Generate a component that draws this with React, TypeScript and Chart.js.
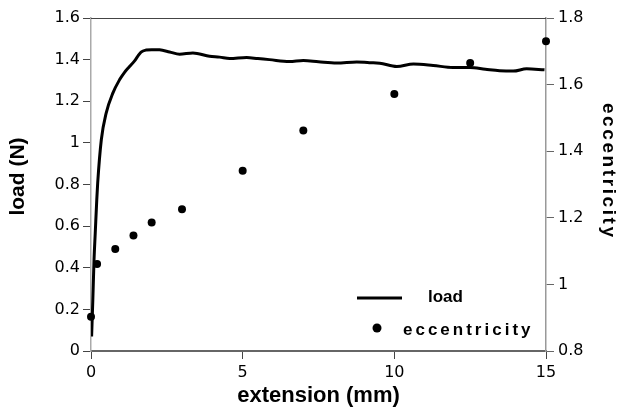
import React, { useEffect, useRef } from "react";
import { Chart, registerables } from "chart.js";

Chart.register(...registerables);

// ---- data ----
const loadX = [0.02, 0.06, 0.1, 0.14, 0.19, 0.22, 0.34, 0.5, 0.72, 0.94, 1.1, 1.27, 1.43, 1.55, 1.65, 1.82, 2.0, 2.26, 2.59, 2.92, 3.36, 3.91, 4.24, 4.57, 5.13, 5.5, 5.88, 6.54, 7.0, 7.5, 8.1, 8.76, 9.18, 9.52, 10.08, 10.63, 11.28, 11.94, 12.49, 13.0, 13.47, 13.92, 14.36, 14.95];
const loadY = [0.07, 0.245, 0.44, 0.567, 0.726, 0.806, 1.015, 1.143, 1.239, 1.303, 1.338, 1.367, 1.393, 1.418, 1.436, 1.446, 1.448, 1.447, 1.437, 1.426, 1.432, 1.416, 1.412, 1.405, 1.41, 1.405, 1.4, 1.391, 1.396, 1.39, 1.384, 1.389, 1.385, 1.383, 1.367, 1.379, 1.372, 1.362, 1.362, 1.354, 1.347, 1.345, 1.356, 1.351];

const eccX = [0, 0.2, 0.8, 1.4, 2, 3, 5, 7, 10, 12.5, 15];
const eccY = [0.903, 1.061, 1.106, 1.147, 1.186, 1.226, 1.341, 1.462, 1.572, 1.665, 1.73];

const xTickLabels = ["0", "5", "10", "15"];
const yTickLabels = ["0", "0.2", "0.4", "0.6", "0.8", "1", "1.2", "1.4", "1.6"];
const y2TickLabels = ["0.8", "1", "1.2", "1.4", "1.6", "1.8"];

const seriesNames = ["load", "eccentricity"];
const xTitle = "extension (mm)";
const yTitle = "load (N)";
const y2Title = "eccentricity";

const TICK_FONT = { family: "'DejaVu Sans', sans-serif", size: 16 };
const BOLD = "'Liberation Sans', Arial, sans-serif";

const overlay = {
  id: "overlay",
  afterDraw(chart: any) {
    const { ctx, chartArea } = chart;
    const { left, right, top, bottom } = chartArea;
    ctx.save();
    // top frame line
    ctx.strokeStyle = "#444";
    ctx.lineWidth = 1;
    ctx.beginPath();
    ctx.moveTo(left, top + 0.5);
    ctx.lineTo(right, top + 0.5);
    ctx.stroke();

    ctx.fillStyle = "#000";
    ctx.textBaseline = "middle";

    // left title
    ctx.save();
    ctx.font = `bold 21px ${BOLD}`;
    ctx.textAlign = "center";
    ctx.translate(18, 176.5);
    ctx.rotate(-Math.PI / 2);
    ctx.fillText(yTitle, 0, 0);
    ctx.restore();

    // right title (letter spaced)
    ctx.save();
    ctx.font = `bold 19px ${BOLD}`;
    (ctx as any).letterSpacing = "2.6px";
    ctx.textAlign = "left";
    const w = ctx.measureText(y2Title).width - 2.6;
    ctx.translate(right + 62, 170);
    ctx.rotate(Math.PI / 2);
    ctx.fillText(y2Title, -w / 2, 0);
    ctx.restore();

    // legend
    const ds = chart.data.datasets;
    ctx.strokeStyle = "#000";
    ctx.lineWidth = 3;
    ctx.beginPath();
    ctx.moveTo(right - 189, bottom - 53);
    ctx.lineTo(right - 144, bottom - 53);
    ctx.stroke();
    ctx.font = `bold 17px ${BOLD}`;
    ctx.textAlign = "left";
    ctx.fillText(ds[0].label, right - 118, bottom - 54);

    ctx.beginPath();
    ctx.arc(right - 169, bottom - 23, 4.5, 0, Math.PI * 2);
    ctx.fill();
    ctx.save();
    (ctx as any).letterSpacing = "3px";
    ctx.fillText(ds[1].label, right - 143, bottom - 21);
    ctx.restore();

    ctx.restore();
  },
};

export default function App() {
  const ref = useRef<HTMLCanvasElement>(null);

  useEffect(() => {
    if (!ref.current) return;
    const chart = new Chart(ref.current, {
      type: "scatter",
      data: {
        datasets: [
          {
            label: seriesNames[0],
            data: loadX.map((x, i) => ({ x, y: loadY[i] })),
            showLine: true,
            borderColor: "#000",
            borderWidth: 3,
            pointRadius: 0,
            cubicInterpolationMode: "monotone",
            yAxisID: "y",
            order: 2,
          },
          {
            label: seriesNames[1],
            data: eccX.map((x, i) => ({ x, y: eccY[i] })),
            showLine: false,
            backgroundColor: "#000",
            borderColor: "#000",
            pointRadius: 4,
            pointBorderWidth: 0,
            yAxisID: "y2",
            clip: false,
            order: 1,
          },
        ],
      } as any,
      options: {
        animation: false,
        responsive: false,
        events: [],
        layout: { padding: { top: 18, left: 0, right: 0, bottom: 0 } },
        plugins: { legend: { display: false }, tooltip: { enabled: false } },
        scales: {
          x: {
            type: "linear",
            min: 0,
            max: 15,
            ticks: {
              stepSize: 5,
              font: TICK_FONT,
              color: "#000",
              padding: 4,
              maxRotation: 0,
              callback: (_v: any, i: number) => xTickLabels[i],
            },
            grid: { drawOnChartArea: false, drawTicks: true, tickLength: 8, color: "#444" },
            border: { display: true, color: "#666", width: 2 },
            title: {
              display: true,
              text: xTitle,
              font: { family: BOLD, size: 22, weight: "bold" },
              color: "#000",
              padding: { top: 0, bottom: 0 },
            },
            afterFit: (s: any) => {
              s.height = 58;
            },
          },
          y: {
            type: "linear",
            position: "left",
            min: 0,
            max: 1.6,
            ticks: {
              stepSize: 0.2,
              font: TICK_FONT,
              color: "#000",
              padding: 3,
              callback: (_v: any, i: number) => yTickLabels[i],
            },
            grid: { drawOnChartArea: false, drawTicks: true, tickLength: 8, color: "#444" },
            border: { display: true, color: "#aaa", width: 1.5 },
            afterFit: (s: any) => {
              s.width = 91;
            },
          },
          y2: {
            type: "linear",
            position: "right",
            min: 0.8,
            max: 1.8,
            ticks: {
              stepSize: 0.2,
              font: TICK_FONT,
              color: "#000",
              padding: 4,
              callback: (_v: any, i: number) => y2TickLabels[i],
            },
            grid: { drawOnChartArea: false, drawTicks: true, tickLength: 8, color: "#666" },
            border: { display: true, color: "#999", width: 1.5 },
            afterFit: (s: any) => {
              s.width = 75;
            },
          },
        },
      } as any,
      plugins: [overlay],
    });
    return () => chart.destroy();
  }, []);

  return (
    <div style={{ position: "fixed", left: 0, top: 0, width: 621, height: 409, background: "#fff" }}>
      <canvas ref={ref} width={621} height={409} style={{ display: "block" }} />
    </div>
  );
}
